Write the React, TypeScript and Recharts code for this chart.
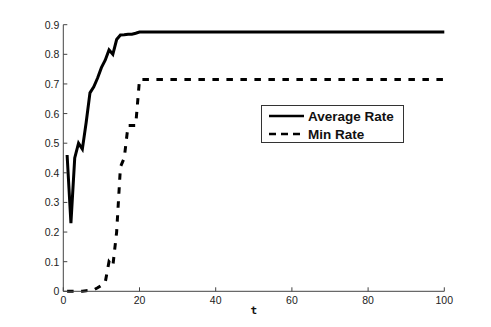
import React from 'react';
import { LineChart, Line, XAxis, YAxis, Legend } from 'recharts';

const tValues = [1, 2, 3, 4, 5, 6, 7, 8, 9, 10, 11, 12, 13, 14, 15, 16, 17, 18, 19, 20, 100];
const averageRate = [0.46, 0.23, 0.45, 0.5, 0.48, 0.57, 0.67, 0.69, 0.72, 0.755, 0.78, 0.815, 0.8, 0.85, 0.865, 0.866, 0.868, 0.868, 0.871, 0.875, 0.875];
const minRate = [0, 0, 0, 0, 0, 0.002, 0.003, 0.005, 0.012, 0.02, 0.03, 0.1, 0.085, 0.2, 0.42, 0.45, 0.56, 0.56, 0.56, 0.715, 0.715];
const xTicks = [0, 20, 40, 60, 80, 100];
const yTicks = [0, 0.1, 0.2, 0.3, 0.4, 0.5, 0.6, 0.7, 0.8, 0.9];

const data = tValues.map((t, i) => ({ t, avg: averageRate[i], min: minRate[i] }));

const axisColor = '#444';
const font = '"Liberation Sans", Arial, sans-serif';

const YTick = (props: any) => {
    const { x, y, payload } = props;
    return (
        <g>
            <line x1={x} y1={y} x2={x + 4} y2={y} stroke={axisColor} strokeWidth={1} />
            <text x={x - 4} y={y} dy={4} textAnchor="end" fontSize={10.5} fontFamily={font} fill="#222">
                {String(payload.value)}
            </text>
        </g>
    );
};

const XTick = (props: any) => {
    const { x, y, payload } = props;
    return (
        <g>
            <line x1={x} y1={y} x2={x} y2={y - 4} stroke={axisColor} strokeWidth={1} />
            <text x={x} y={y} dy={13} textAnchor="middle" fontSize={10.5} fontFamily={font} fill="#222">
                {String(payload.value)}
            </text>
        </g>
    );
};

const renderLegend = () => (
    <div style={{ border: '1px solid #333', background: '#fff', width: 141, height: 36, boxSizing: 'content-box', fontFamily: font, fontWeight: 'bold', fontSize: 13.5, color: '#111' }}>
        <div style={{ display: 'flex', alignItems: 'center', height: 18, marginTop: 1 }}>
            <svg width={46} height={10}>
                <line x1={7} y1={5} x2={42} y2={5} stroke="#000" strokeWidth={2.5} />
            </svg>
            <span>Average Rate</span>
        </div>
        <div style={{ display: 'flex', alignItems: 'center', height: 18 }}>
            <svg width={46} height={10}>
                <line x1={7} y1={5} x2={42} y2={5} stroke="#000" strokeWidth={2.5} strokeDasharray="7 5" />
            </svg>
            <span>Min Rate</span>
        </div>
    </div>
);

export default function App() {
    return (
        <div style={{ position: 'absolute', left: 0, top: 0, width: 491, height: 327, background: '#fff' }}>
            <LineChart width={491} height={327} data={data} margin={{ top: 24.7, right: 46.7, bottom: 5.7, left: 23.3 }}>
                <XAxis
                    dataKey="t"
                    type="number"
                    domain={[0, 100]}
                    ticks={xTicks}
                    height={30}
                    stroke={axisColor}
                    tickLine={false}
                    tickSize={0}
                    tickMargin={0}
                    tick={<XTick />}
                    label={{ value: 't', position: 'insideBottom', offset: 7, style: { fontFamily: '"DejaVu Sans Mono", monospace', fontWeight: 'bold', fontSize: 11, fill: '#111' } }}
                />
                <YAxis
                    type="number"
                    domain={[0, 0.9]}
                    ticks={yTicks}
                    width={40}
                    stroke={axisColor}
                    tickLine={false}
                    tickSize={0}
                    tickMargin={0}
                    tick={<YTick />}
                />
                <Legend
                    layout="vertical"
                    align="center"
                    verticalAlign="middle"
                    content={renderLegend}
                    wrapperStyle={{ left: 261, top: 105, width: 143, height: 38 }}
                />
                <Line type="linear" dataKey="avg" name="Average Rate" stroke="#000" strokeWidth={3} dot={false} isAnimationActive={false} />
                <Line type="linear" dataKey="min" name="Min Rate" stroke="#000" strokeWidth={3} strokeDasharray="6.5 7.5" dot={false} isAnimationActive={false} />
            </LineChart>
        </div>
    );
}
